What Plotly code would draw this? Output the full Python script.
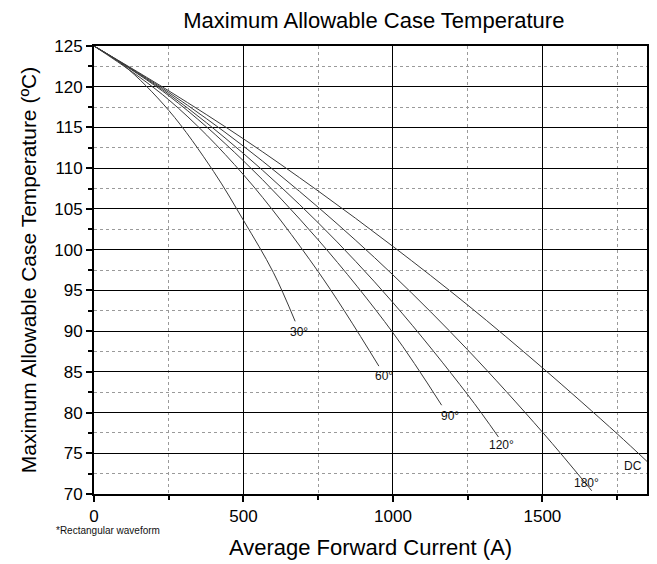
import plotly.graph_objects as go

# Curves: average forward current (A) vs max case temperature (°C)
x_30 = [0, 100, 250, 400, 500, 600, 673]
y_30 = [125, 122.6, 117.1, 109.6, 103.6, 97.2, 91.2]

x_60 = [0, 250, 500, 750, 953]
y_60 = [125, 118.4, 109.2, 97.3, 85.7]

x_90 = [0, 250, 500, 750, 1000, 1163]
y_90 = [125, 118.9, 110.9, 101.2, 89.8, 80.9]

x_120 = [0, 250, 500, 750, 1000, 1250, 1353]
y_120 = [125, 119.1, 111.8, 103.3, 93.5, 82.2, 77.0]

x_180 = [0, 250, 500, 750, 1000, 1250, 1500, 1665]
y_180 = [125, 119.3, 112.7, 105.2, 96.9, 87.7, 77.6, 70.4]

x_dc = [0, 250, 500, 750, 1000, 1250, 1500, 1750, 1850]
y_dc = [125, 119.5, 113.6, 107.2, 100.4, 93.2, 85.5, 77.4, 74.0]

series = [(x_30, y_30), (x_60, y_60), (x_90, y_90), (x_120, y_120), (x_180, y_180), (x_dc, y_dc)]

label_text = ["30°", "60°", "90°", "120°", "180°", "DC"]
label_x = [687, 970, 1190, 1363, 1647, 1803]
label_y = [89.9, 84.5, 79.6, 76.0, 71.3, 73.4]

FONT = "Liberation Sans, Arial, sans-serif"

fig = go.Figure()
for xs, ys in series:
    fig.add_trace(go.Scatter(x=xs, y=ys, mode="lines", line=dict(color="#3a3a3a", width=1, shape="spline"),
                             showlegend=False, hoverinfo="skip"))

for t, lx, ly in zip(label_text, label_x, label_y):
    fig.add_annotation(x=lx, y=ly, text=t, showarrow=False, xref="x", yref="y",
                       font=dict(family=FONT, size=12, color="#111"))

fig.add_annotation(xref="paper", yref="paper", x=-0.073, y=-0.081, xanchor="left", yanchor="middle",
                   text="*Rectangular waveform", showarrow=False,
                   font=dict(family=FONT, size=10, color="#111"))

axis_common = dict(
    showline=True, linecolor="black", linewidth=2, mirror=True,
    ticks="outside", ticklen=6, tickwidth=1.5, tickcolor="black",
    showgrid=True, gridcolor="black", gridwidth=1.3,
    zeroline=False,
    tickfont=dict(family=FONT, size=17, color="black"),
)
minor_common = dict(ticks="outside", ticklen=4, tickwidth=1.5, tickcolor="black",
                    showgrid=True, gridcolor="#9a9a9a", griddash="dot", gridwidth=1)

fig.update_xaxes(range=[0, 1850], tick0=0, dtick=500, **axis_common,
                 minor=dict(dtick=250, **minor_common),
                 title=dict(text="Average Forward Current (A)", font=dict(family=FONT, size=22, color="black"),
                            standoff=14))
fig.update_yaxes(range=[70, 125], tick0=70, dtick=5, **axis_common,
                 minor=dict(dtick=2.5, **minor_common),
                 title=dict(text="Maximum Allowable Case Temperature (ºC)", font=dict(family=FONT, size=21, color="black"),
                            standoff=12))

fig.update_layout(
    width=657, height=564,
    margin=dict(l=94, r=8, t=46, b=68),
    paper_bgcolor="white", plot_bgcolor="white",
    title=dict(text="Maximum Allowable Case Temperature", x=0.569, xref="container", xanchor="center",
               y=1 - 20 / 564, yref="container", yanchor="middle",
               font=dict(family=FONT, size=22, color="black")),
)

fig.write_html("out.html")
